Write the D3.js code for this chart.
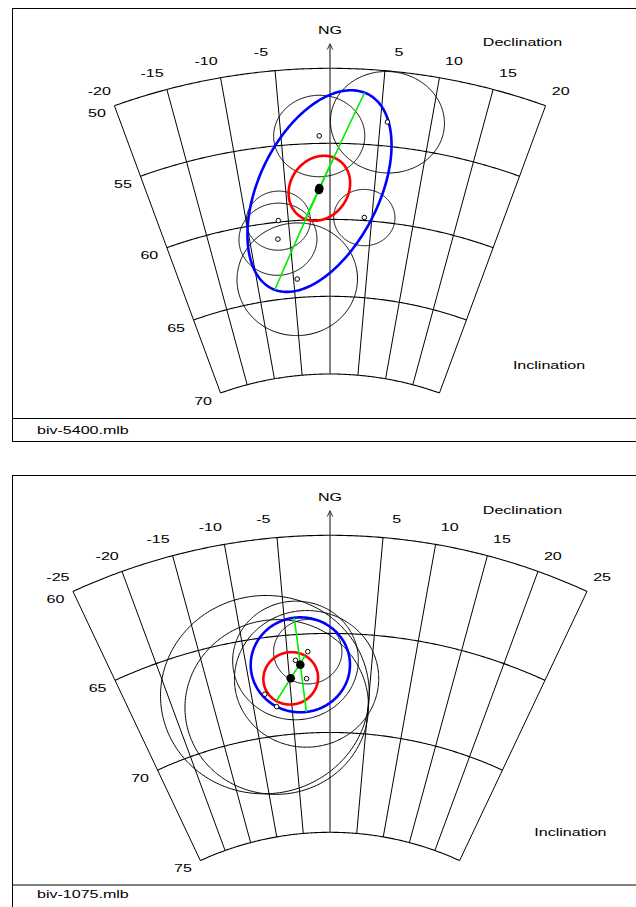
<!DOCTYPE html>
<html>
<head>
<meta charset="utf-8">
<script src="https://cdn.jsdelivr.net/npm/d3@7"></script>
<style>
  html, body { margin: 0; padding: 0; background: #fff; }
  svg { display: block; }
  text { font-family: "Liberation Sans", Arial, Helvetica, sans-serif; font-size: 10.7px; fill: #000; }
</style>
</head>
<body>
<svg id="chart" width="636" height="907"></svg>
<script>
// ---- biv-5400.mlb ----
const decTicks5400 = [-20, -15, -10, -5, 5, 10, 15, 20];
const incTicks5400 = [50, 55, 60, 65, 70];
const siteDec5400 = [-1.1, 5.7, -6.2, -6.5, 4.1, -4.5];
const siteInc5400 = [54.5, 53.4, 59.9, 61.1, 59.8, 63.8];
const siteA95_5400 = [2.7, 3.37, 1.93, 2.35, 1.84, 3.65];
// confidence ellipses: [mean cone, bivariate ellipse]
const ellDec5400 = [-1.2, -1.25];
const ellInc5400 = [57.95, 58.07];
const ellMajor5400 = [2.19, 7.0];
const ellMinor5400 = [1.77, 3.65];
const ellAzim5400 = [24, 23.7];

// ---- biv-1075.mlb ----
const decTicks1075 = [-25, -20, -15, -10, -5, 5, 10, 15, 20, 25];
const incTicks1075 = [60, 65, 70, 75];
const siteDec1075 = [-2.6, -4.1, -2.9, -8.3, -7.0];
const siteInc1075 = [65.9, 66.3, 67.26, 67.84, 68.54];
const siteA95_1075 = [1.63, 3.0, 3.45, 5.0, 4.4];
const ellDec1075 = [-4.85, -3.56];
const ellInc1075 = [67.19, 66.54];
const ellMajor1075 = [1.33, 2.40];
const ellMinor1075 = [1.30, 2.37];
const ellAzim1075 = [35.8, -3.5];

const rad = Math.PI / 180;
const svg = d3.select("#chart");

const panels = [
  {
    name: "biv-5400.mlb", top: 8, sep: 418, bottom: 441,
    yTop: 68.3, yBottom: 374,
    decTicks: decTicks5400, incTicks: incTicks5400,
    siteDec: siteDec5400, siteInc: siteInc5400, siteA95: siteA95_5400,
    ellDec: ellDec5400, ellInc: ellInc5400, ellMajor: ellMajor5400, ellMinor: ellMinor5400, ellAzim: ellAzim5400,
    declLabelY: 42.3, inclLabel: [549, 365.3]
  },
  {
    name: "biv-1075.mlb", top: 475, sep: 884.5, bottom: 910,
    yTop: 535.3, yBottom: 832.3,
    decTicks: decTicks1075, incTicks: incTicks1075,
    siteDec: siteDec1075, siteInc: siteInc1075, siteA95: siteA95_1075,
    ellDec: ellDec1075, ellInc: ellInc1075, ellMajor: ellMajor1075, ellMinor: ellMinor1075, ellAzim: ellAzim1075,
    declLabelY: 510, inclLabel: [570.4, 832]
  }
];

const cx = 330, sx = 1.015, stretch = 1.5;

// unit vector for a direction; colatitude measured from the downward vertical
function vec(dec, inc) {
  const t = (90 - inc) * rad, d = dec * rad;
  return [Math.sin(t) * Math.sin(d), Math.sin(t) * Math.cos(d), Math.cos(t)];
}

function addText(g, x, y, str, anchor) {
  g.append("text")
    .attr("transform", `translate(${x},${y}) scale(${stretch},1)`)
    .attr("text-anchor", anchor || "middle")
    .attr("dominant-baseline", "central")
    .text(str);
}

panels.forEach(p => {
  const g = svg.append("g");
  const decMin = d3.min(p.decTicks), decMax = d3.max(p.decTicks);
  const incMin = d3.min(p.incTicks), incMax = d3.max(p.incTicks);

  // equal-area radius: sin(colatitude/2) mapped onto the vertical axis
  const s = inc => Math.sin((90 - inc) / 2 * rad);
  const yScale = d3.scaleLinear().domain([s(incMax), s(incMin)]).range([p.yBottom, p.yTop]);
  const cy = yScale(0);
  const radius = v => cy - yScale(v);

  function project(v) {
    const h = Math.hypot(v[0], v[1]);
    const r = radius(Math.sqrt(Math.max(0, (1 - v[2]) / 2)));
    if (h < 1e-12) return [cx, cy];
    return [cx + sx * r * v[0] / h, cy - r * v[1] / h];
  }
  const pt = (dec, inc) => project(vec(dec, inc));

  // point on the sphere offset from (dec, inc) by local components (up, right) in degrees
  function offset(dec, inc, up, right) {
    const c = vec(dec, inc);
    const t = (90 - inc) * rad, d = dec * rad;
    const eUp = [Math.cos(t) * Math.sin(d), Math.cos(t) * Math.cos(d), -Math.sin(t)];
    const eRight = [Math.cos(d), -Math.sin(d), 0];
    const rho = Math.hypot(up, right);
    if (rho < 1e-12) return c;
    const ux = up / rho, vx = right / rho;
    const rr = rho * rad;
    return [0, 1, 2].map(i => Math.cos(rr) * c[i] + Math.sin(rr) * (ux * eUp[i] + vx * eRight[i]));
  }
  function ellipsePts(dec, inc, a, b, psi) {
    const ps = psi * rad;
    return d3.range(0, 360, 1).map(deg => {
      const tt = deg * rad;
      const up = a * Math.cos(tt) * Math.cos(ps) - b * Math.sin(tt) * Math.sin(ps);
      const right = a * Math.cos(tt) * Math.sin(ps) + b * Math.sin(tt) * Math.cos(ps);
      return project(offset(dec, inc, up, right));
    });
  }
  function axisPts(dec, inc, a, psi) {
    const ps = psi * rad;
    return d3.range(-a, a + 1e-9, a / 40).map(sv => project(offset(dec, inc, sv * Math.cos(ps), sv * Math.sin(ps))));
  }

  const line = d3.line();
  const closed = d3.line().curve(d3.curveLinearClosed);

  // frame
  g.append("rect").attr("x", 12.5).attr("y", p.top + 0.5).attr("width", 660).attr("height", p.bottom - p.top)
    .attr("fill", "none").attr("stroke", "#000").attr("stroke-width", 1);
  g.append("line").attr("x1", 12).attr("x2", 640).attr("y1", p.sep + 0.5).attr("y2", p.sep + 0.5)
    .attr("stroke", "#000").attr("stroke-width", 1);
  addText(g, 37, (p.sep + Math.min(p.bottom, 907)) / 2 + 0.5 - (p.bottom > 907 ? 1.5 : 0), p.name, "start");

  // meridians
  const meridians = d3.range(decMin, decMax + 0.1, 5).filter(d => d !== 0);
  g.selectAll(null).data(meridians).join("path")
    .attr("d", d => line([pt(d, incMin), pt(d, incMax)]))
    .attr("fill", "none").attr("stroke", "#000").attr("stroke-width", 1);
  // parallels
  g.selectAll(null).data(p.incTicks).join("path")
    .attr("d", i => line(d3.range(decMin, decMax + 0.01, 0.25).map(d => pt(d, i))))
    .attr("fill", "none").attr("stroke", "#000").attr("stroke-width", 1.1);

  // north arrow along declination 0
  const base = pt(0, incMax), topArc = pt(0, incMin);
  const tipY = topArc[1] - 24.5;
  g.append("line").attr("x1", cx).attr("x2", cx).attr("y1", base[1]).attr("y2", tipY)
    .attr("stroke", "#333").attr("stroke-width", 1.2);
  g.append("path").attr("d", line([[cx - 2.7, tipY + 5.7], [cx, tipY], [cx + 2.7, tipY + 5.7]]))
    .attr("fill", "none").attr("stroke", "#333").attr("stroke-width", 1);
  addText(g, cx, tipY - 13, "NG");

  // declination labels
  const rTop = radius(s(incMin)) + 19;
  p.decTicks.forEach(d => {
    const a = (d + Math.sign(d) * (1.2 - 0.02 * Math.abs(d))) * rad;
    addText(g, cx + sx * rTop * Math.sin(a), cy - rTop * Math.cos(a), String(d));
  });
  // inclination labels
  p.incTicks.forEach(i => {
    const q = pt(decMin, i);
    addText(g, q[0] - 17.5, q[1] + 8, String(i));
  });
  addText(g, 522.5, p.declLabelY, "Declination");
  addText(g, p.inclLabel[0], p.inclLabel[1], "Inclination");

  // alpha95 circles of individual sites
  g.selectAll(null).data(d3.range(p.siteDec.length)).join("path")
    .attr("d", k => closed(ellipsePts(p.siteDec[k], p.siteInc[k], p.siteA95[k], p.siteA95[k], 0)))
    .attr("fill", "none").attr("stroke", "#000").attr("stroke-width", 1);

  // confidence ellipses: blue (bivariate) then red (mean cone)
  const ellColors = ["#ff0000", "#0000ff"];
  [1, 0].forEach(k => {
    g.append("path")
      .attr("d", closed(ellipsePts(p.ellDec[k], p.ellInc[k], p.ellMajor[k], p.ellMinor[k], p.ellAzim[k])))
      .attr("fill", "none").attr("stroke", ellColors[k]).attr("stroke-width", 2.6);
  });
  // major axes
  [0, 1].forEach(k => {
    g.append("path")
      .attr("d", line(axisPts(p.ellDec[k], p.ellInc[k], p.ellMajor[k], p.ellAzim[k])))
      .attr("fill", "none").attr("stroke", "#00ee00").attr("stroke-width", 1.6);
  });

  // site directions
  g.selectAll(null).data(d3.range(p.siteDec.length)).join("circle")
    .attr("cx", k => pt(p.siteDec[k], p.siteInc[k])[0])
    .attr("cy", k => pt(p.siteDec[k], p.siteInc[k])[1])
    .attr("r", 2.3).attr("fill", "#fff").attr("stroke", "#000").attr("stroke-width", 1);
  // mean directions
  g.selectAll(null).data(d3.range(p.ellDec.length)).join("circle")
    .attr("cx", k => pt(p.ellDec[k], p.ellInc[k])[0])
    .attr("cy", k => pt(p.ellDec[k], p.ellInc[k])[1])
    .attr("r", 4.3).attr("fill", "#000");
});
</script>
</body>
</html>
